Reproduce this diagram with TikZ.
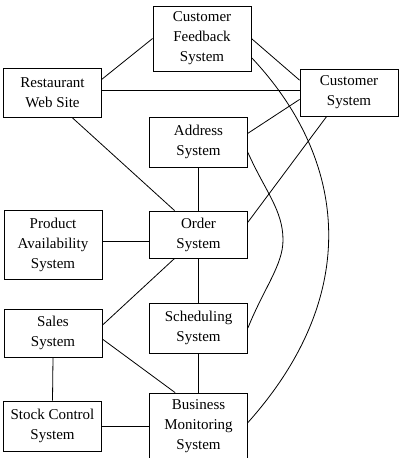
\documentclass[tikz,border=0pt]{standalone}
\usepackage{fontspec}
\setmainfont{Liberation Serif}
\begin{document}
\begin{tikzpicture}[x=1pt,y=-1pt, thick,
  sys/.style={draw, align=center, inner sep=0pt, minimum width=98, minimum height=49,
    font=\fontsize{15}{20}\selectfont}]
  \useasboundingbox (0,0) rectangle (406,458);
  \node[sys, minimum height=65] (fb) at (202,38.5) {Customer\\Feedback\\System};
  \node[sys] (web) at (52.5,92.5) {Restaurant\\Web Site};
  \node[sys, minimum height=47] (cust) at (349,92.5) {Customer\\System};
  \node[sys, minimum height=50] (addr) at (198.5,142) {Address\\System};
  \node[sys, minimum height=47] (order) at (198.5,234.5) {Order\\System};
  \node[sys, minimum height=69] (prod) at (53,244.5) {Product\\Availability\\System};
  \node[sys, minimum height=48] (sales) at (53,333) {Sales\\System};
  \node[sys, minimum height=50] (sched) at (198.5,328) {Scheduling\\System};
  \node[sys, minimum height=50] (stock) at (52.5,426) {Stock Control\\System};
  \node[sys, minimum height=66] (bms) at (198.5,426) {Business\\Monitoring\\System};
  \draw (web.15) -- (fb.west);
  \draw (web.3) -- (cust.177);
  \draw (fb.east) -- (cust.166);
  \draw (cust.188) -- (addr.10);
  \draw (cust.227) -- (order.14);
  \draw (web.-52) -- (order.135);
  \draw (addr.south) -- (order.north);
  \draw (order.188) -- (order.188 -| prod.east);
  \draw (order.225) -- (sales.9);
  \draw (order.south) -- (sched.north);
  \draw (sched.south) -- (bms.north);
  \draw (sales.-7) -- (bms.125);
  \draw (sales.south) -- (stock.north);
  \draw (stock.east) -- (bms.west);
  % curved links on the right
  \coordinate (bend) at (283,240);
  \draw (fb.-21) .. controls (348,160) and (362,295) .. (bms.4);
  \draw (addr.-12) .. controls (265,191) and (283,210) .. (bend)
    .. controls (283,265) and (264,288) .. (sched.east);
\end{tikzpicture}
\end{document}
